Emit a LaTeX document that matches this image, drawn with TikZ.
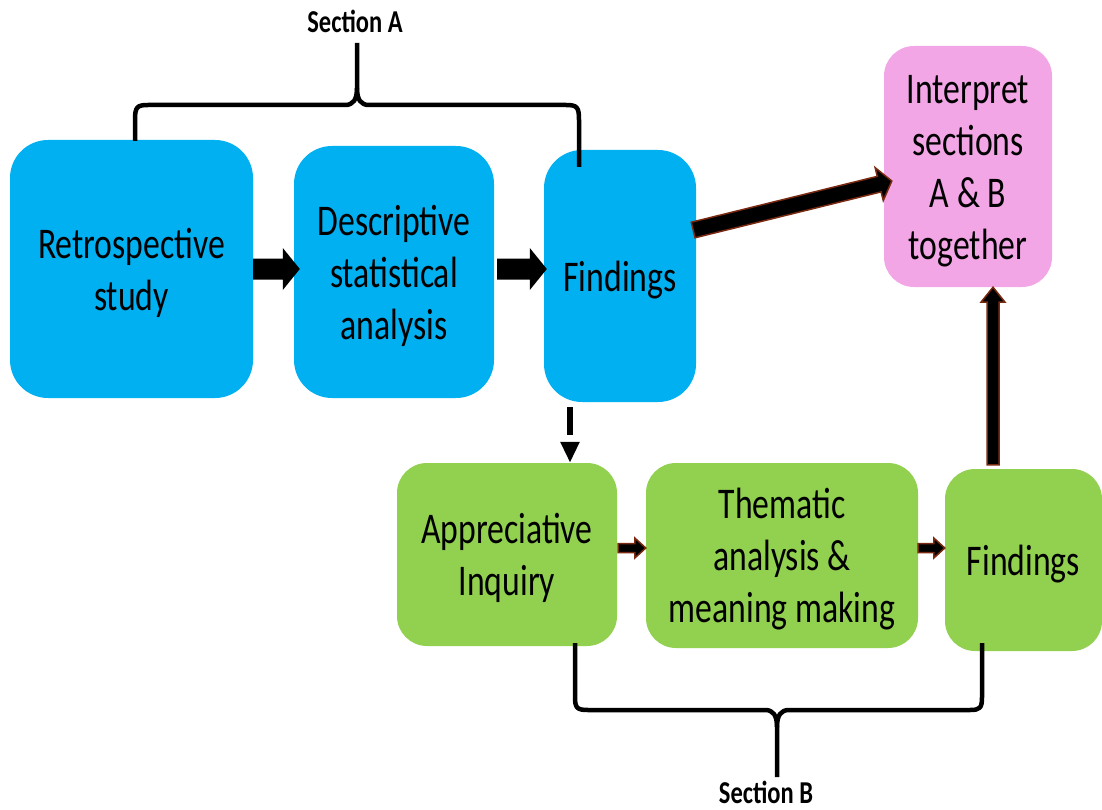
\documentclass[tikz,border=0pt]{standalone}
\usepackage{fontspec}
\setmainfont{Carlito}
\usetikzlibrary{calc,arrows.meta}
\definecolor{cblue}{HTML}{00B0F0}
\definecolor{cgreen}{HTML}{92D050}
\definecolor{cpink}{HTML}{F2A6E6}
\definecolor{cdark}{HTML}{7A2A10}
\newcommand\boxtxt[1]{\raisebox{-5pt}[\height][\depth]{\scalebox{1}[1.3]{\fontsize{33.7}{40}\selectfont\begin{tabular}{@{}c@{}}#1\end{tabular}}}}
\newcommand\labtxt[1]{\scalebox{1}[1.3]{\fontsize{24.5}{30}\selectfont\bfseries #1}}
% block arrow: style, start, tip, shaft half width, head half width, head length
\newcommand\blockarrow[6]{%
  \coordinate (bahead) at ($(#3)!#6!(#2)$);
  \draw[#1] ($(#2)!#4!90:(#3)$) -- ($(bahead)!#4!90:(#3)$) -- ($(bahead)!#5!90:(#3)$)
    -- (#3) -- ($(bahead)!#5!-90:(#3)$) -- ($(bahead)!#4!-90:(#3)$) -- ($(#2)!#4!-90:(#3)$) -- cycle;}
\begin{document}
\begin{tikzpicture}[x=1pt,y=-1pt,
  bx/.style={inner sep=0pt, align=center},
  bluebox/.style={bx, fill=cblue, rounded corners=38pt},
  greenbox/.style={bx, fill=cgreen, rounded corners=30pt},
  pinkbox/.style={bx, fill=cpink, rounded corners=30pt},
  blk/.style={fill=black, draw=none},
  blkred/.style={fill=black, draw=cdark, line width=1.5pt, line join=miter},
  brace/.style={draw=black, line width=4.5pt, line join=round}]
\useasboundingbox (0,0) rectangle (1102,810);
% boxes
\node[bluebox, minimum width=243pt, minimum height=258pt] (r) at (131.5,269) {\boxtxt{Retrospective\\study}};
\node[bluebox, minimum width=200pt, minimum height=252pt] (d) at (394,272) {\boxtxt{Descriptive\\statistical\\analysis}};
\node[bluebox, minimum width=152pt, minimum height=252pt] (f) at (620,276) {\boxtxt{Findings}};
\node[pinkbox, minimum width=168pt, minimum height=241pt] (i) at (968,166.5) {\boxtxt{Interpret\\sections\\A \& B\\together}};
\node[greenbox, minimum width=220pt, minimum height=183pt] (a) at (507,554.5) {\boxtxt{Appreciative\\Inquiry}};
\node[greenbox, minimum width=272pt, minimum height=185pt] (t) at (782,555.5) {\boxtxt{Thematic\\analysis \&\\meaning making}};
\node[greenbox, minimum width=157pt, minimum height=182pt] (g) at (1023.5,560) {\boxtxt{Findings}};
% arrow end points
\coordinate (a1s) at (r.east);
\coordinate (a1e) at ($(d.west|-r.east)+(6,0)$);
\coordinate (a2s) at ($(d.east|-r.east)+(3,0)$);
\coordinate (a2e) at ($(f.west|-r.east)+(3,0)$);
\coordinate (a3s) at ($(f.east)+(-3,-46)$);
\coordinate (a3e) at ($(i.west)+(8,14.5)$);
\coordinate (a4s) at ($(g.north)+(-30.5,-4)$);
\coordinate (a4e) at ($(i.south)+(25,0)$);
\coordinate (a5s) at ($(a.east)+(1,-6.5)$);
\coordinate (a5e) at ($(t.west)+(0,-7.5)$);
\coordinate (a6s) at ($(t.east)+(0,-7.5)$);
\coordinate (a6e) at ($(g.west)+(0,-12)$);
\coordinate (dsh) at ($(f.south)+(-50,5)$);
\coordinate (dse) at (dsh|-a.north);
% arrows
\blockarrow{blk}{a1s}{a1e}{10.5pt}{21pt}{17pt}
\blockarrow{blk}{a2s}{a2e}{10.5pt}{21pt}{17pt}
\blockarrow{blkred}{a3s}{a3e}{8pt}{17pt}{13pt}
\blockarrow{blkred}{a4s}{a4e}{6pt}{12pt}{15pt}
\blockarrow{blkred}{a5s}{a5e}{4.5pt}{10pt}{11pt}
\blockarrow{blkred}{a6s}{a6e}{4.5pt}{10pt}{11pt}
\draw[line width=6pt, dash pattern=on 28pt off 10pt, -{Triangle[width=18pt,length=21pt]}] (dsh) -- (dse);
% braces
\coordinate (bAl) at ($(r.north)+(3.5,1)$);
\coordinate (bAr) at ($(f.north)+(-41,17)$);
\coordinate (bAt) at (357,43);
\draw[brace] (bAl) -- (135,120) .. controls (135,107) and (137,105) .. (148,105) -- (345,105)
  .. controls (353,105) and (357,100) .. (357,88) -- (bAt);
\draw[brace] (357,88) .. controls (357,100) and (361,105) .. (369,105) -- (566,105)
  .. controls (577,105) and (579,107) .. (579,120) -- (bAr);
\coordinate (bBl) at ($(a.south)+(68,-3)$);
\coordinate (bBr) at ($(g.south)+(-41.5,-8)$);
\coordinate (bBb) at (777,777);
\draw[brace] (bBl) -- (575,697) .. controls (575,708) and (577,710) .. (588,710) -- (765,710)
  .. controls (773,710) and (777,715) .. (777,727) -- (bBb);
\draw[brace] (777,727) .. controls (777,715) and (781,710) .. (789,710) -- (970,710)
  .. controls (980,710) and (982,708) .. (982,697) -- (bBr);
% labels
\node[inner sep=0pt] (sA) at (355,21) {\labtxt{Section A}};
\node[inner sep=0pt] (sB) at (766,792) {\labtxt{Section B}};
\end{tikzpicture}
\end{document}
